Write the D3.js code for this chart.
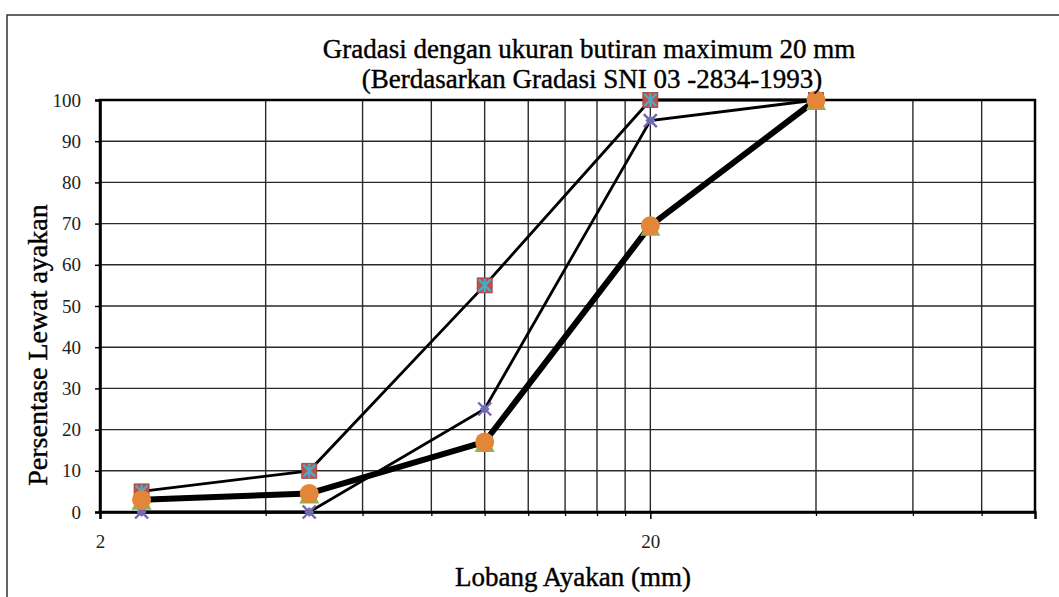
<!DOCTYPE html>
<html>
<head>
<meta charset="utf-8">
<script src="https://cdn.jsdelivr.net/npm/d3@7"></script>
<style>
  html, body { margin: 0; padding: 0; background: #fff; }
  svg { display: block; }
</style>
</head>
<body>
<svg id="chart" width="1059" height="597"></svg>
<script>
// ---- data ----
const sieveSizes = [2.38, 4.8, 10, 20, 40];          // Lobang Ayakan (mm)
const upperLimit = [5, 10, 55, 100, 100];            // batas atas
const lowerLimit = [0, 0, 25, 95, 100];              // batas bawah
const combined   = [3, 4.5, 17, 69.5, 100];          // gradasi gabungan
const yTicks = [0, 10, 20, 30, 40, 50, 60, 70, 80, 90, 100];
const xMajorTicks = [2, 20];
const xMinorTicks = [4, 6, 8, 10, 12, 14, 16, 18, 40, 60, 80];
const titleLines = ["Gradasi dengan ukuran butiran maximum 20 mm", "(Berdasarkan Gradasi SNI 03 -2834-1993)"];
const xTitle = "Lobang Ayakan (mm)";
const yTitle = "Persentase Lewat ayakan";

const FONT = "'Liberation Serif', 'DejaVu Serif', serif";

// ---- layout ----
const svg = d3.select("#chart");
const L = 100, R = 1035, T = 100, B = 512;
const x = d3.scaleLog().domain([2, 100]).range([L, R]);
const y = d3.scaleLinear().domain([0, 100]).range([B, T]);

// outer frame
svg.append("rect").attr("x", 7).attr("y", 15).attr("width", 1100).attr("height", 700)
  .attr("fill", "none").attr("stroke", "#333").attr("stroke-width", 1.5);

// gridlines
const grid = svg.append("g").attr("stroke", "#2a2a2a").attr("stroke-width", 1.4);
grid.selectAll("line.h").data(yTicks.filter(d => d > 0)).join("line")
  .attr("x1", L).attr("x2", R).attr("y1", d => y(d)).attr("y2", d => y(d));
grid.selectAll("line.v").data(xMinorTicks.concat([20])).join("line")
  .attr("y1", T).attr("y2", B).attr("x1", d => x(d)).attr("x2", d => x(d));

// plot frame
svg.append("rect").attr("x", L).attr("y", T).attr("width", R - L).attr("height", B - T)
  .attr("fill", "none").attr("stroke", "#000").attr("stroke-width", 2.5);

// axes
const yAxis = svg.append("g").attr("transform", `translate(${L},0)`)
  .call(d3.axisLeft(y).tickValues(yTicks).tickSize(5).tickPadding(14).tickFormat(d3.format("d")));
yAxis.select(".domain").attr("stroke-width", 2.5);
yAxis.selectAll(".tick line").attr("stroke-width", 1.5);
yAxis.selectAll("text").style("font-family", FONT).style("font-size", "19px").attr("fill", "#222");

const xMinor = svg.append("g").attr("transform", `translate(0,${B})`)
  .call(d3.axisBottom(x).tickValues(xMinorTicks).tickSize(4).tickFormat(""));
xMinor.select(".domain").remove();
xMinor.selectAll(".tick line").attr("stroke-width", 1.3);

const xMajor = svg.append("g").attr("transform", `translate(0,${B})`)
  .call(d3.axisBottom(x).tickValues(xMajorTicks).tickSize(7).tickPadding(16).tickFormat(d3.format("d")));
xMajor.select(".domain").attr("stroke-width", 2.5);
xMajor.selectAll(".tick line").attr("stroke-width", 1.5);
xMajor.selectAll("text").style("font-family", FONT).style("font-size", "19px").attr("fill", "#222");

// lines
const line = d3.line().x(d => x(d[0])).y(d => y(d[1]));
const zip = vals => sieveSizes.map((s, i) => [s, vals[i]]);
svg.append("path").datum(zip(upperLimit)).attr("d", line)
  .attr("fill", "none").attr("stroke", "#000").attr("stroke-width", 2.8);
svg.append("path").datum(zip(lowerLimit)).attr("d", line)
  .attr("fill", "none").attr("stroke", "#000").attr("stroke-width", 2.8);
svg.append("path").datum(zip(combined)).attr("d", line)
  .attr("fill", "none").attr("stroke", "#000").attr("stroke-width", 6).attr("stroke-linejoin", "round");

// markers: upper limit (red square + teal star)
const up = svg.append("g");
up.selectAll("rect").data(zip(upperLimit)).join("rect")
  .attr("x", d => x(d[0]) - 7.5).attr("y", d => y(d[1]) - 7.5).attr("width", 15).attr("height", 15)
  .attr("fill", "#C0504D").attr("stroke", "#9b3d3a").attr("stroke-width", 0.8);
up.selectAll("path").data(zip(upperLimit)).join("path")
  .attr("d", d => { const cx = x(d[0]), cy = y(d[1]), s = 6;
    return `M${cx-s},${cy-s}L${cx+s},${cy+s}M${cx-s},${cy+s}L${cx+s},${cy-s}M${cx},${cy-s-1}L${cx},${cy+s+1}`; })
  .attr("stroke", "#4BACC6").attr("stroke-width", 2.2).attr("fill", "none");

// markers: lower limit (blue diamond + purple X)
const lo = svg.append("g");
lo.selectAll("path.d").data(zip(lowerLimit)).join("path").attr("class", "d")
  .attr("d", d => { const cx = x(d[0]), cy = y(d[1]), s = 5;
    return `M${cx},${cy-s}L${cx+s},${cy}L${cx},${cy+s}L${cx-s},${cy}Z`; })
  .attr("fill", "#4F81BD");
lo.selectAll("path.x").data(zip(lowerLimit)).join("path").attr("class", "x")
  .attr("d", d => { const cx = x(d[0]), cy = y(d[1]), s = 6.5;
    return `M${cx-s},${cy-s}L${cx+s},${cy+s}M${cx-s},${cy+s}L${cx+s},${cy-s}`; })
  .attr("stroke", "#7E62B0").attr("stroke-width", 2.4).attr("fill", "none");

// markers: combined (green triangle + orange circle)
const cb = svg.append("g");
cb.selectAll("path").data(zip(combined)).join("path")
  .attr("d", d => { const cx = x(d[0]), cy = y(d[1]);
    return `M${cx},${cy-9}L${cx+10},${cy+10}L${cx-10},${cy+10}Z`; })
  .attr("fill", "#8CB450");
cb.selectAll("circle").data(zip(combined)).join("circle")
  .attr("cx", d => x(d[0])).attr("cy", d => y(d[1])).attr("r", 9.5)
  .attr("fill", "#E3863A");

// titles
const txt = (xx, yy, s, size) => svg.append("text").attr("x", xx).attr("y", yy)
  .attr("text-anchor", "middle").style("font-family", FONT).style("font-size", size + "px")
  .attr("fill", "#000").attr("stroke", "#000").attr("stroke-width", 0.4).text(s);
txt(589, 58, titleLines[0], 27);
txt(592, 88, titleLines[1], 27);
txt(573, 586, xTitle, 27);
svg.append("text").attr("transform", "translate(47,345) rotate(-90)").attr("text-anchor", "middle")
  .style("font-family", FONT).style("font-size", "28px").attr("fill", "#000")
  .attr("stroke", "#000").attr("stroke-width", 0.4).text(yTitle);
</script>
</body>
</html>
